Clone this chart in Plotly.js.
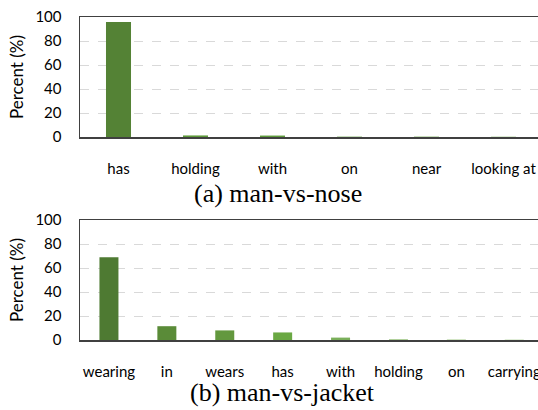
<!DOCTYPE html>
<html>
<head>
<meta charset="utf-8">
<script src="https://cdn.plot.ly/plotly-3.0.1.min.js"></script>
<style>html,body{margin:0;padding:0;background:#fff;}#chart{width:538px;height:410px;}</style>
</head>
<body>
<div id="chart"></div>
<script>
// Panel (a): man-vs-nose
const noseCategories = ["has", "holding", "with", "on", "near", "looking at"];
const noseValues = [95.8, 1.3, 1.2, 0.3, 0.3, 0.2];
const noseColors = ["#548235", "#5e9a3a", "#5f9c3c", "#639f40", "#67a443", "#6aa845"];

// Panel (b): man-vs-jacket
const jacketCategories = ["wearing", "in", "wears", "has", "with", "holding", "on", "carrying"];
const jacketValues = [69, 11.5, 8, 6.3, 2, 0.5, 0.3, 0.2];
const jacketColors = ["#4e7a32", "#5a8b38", "#63983e", "#6aa843", "#7aaf5a", "#7db35a", "#80b65d", "#82b860"];

const yTicks = [0, 20, 40, 60, 80, 100];
const captionA = "(a) man-vs-nose";
const captionB = "(b) man-vs-jacket";

const tickFont = {family: "Lato, 'Open Sans', sans-serif", size: 15, color: "#000"};

const traces = [
  {type: "bar", x: noseCategories, y: noseValues, xaxis: "x", yaxis: "y",
   width: 0.325, marker: {color: noseColors}, hoverinfo: "skip"},
  {type: "bar", x: jacketCategories, y: jacketValues, xaxis: "x2", yaxis: "y2",
   width: 0.328, marker: {color: jacketColors}, hoverinfo: "skip"}
];

function yAxis(domain, anchor) {
  return {
    domain: domain, anchor: anchor, range: [0, 100], tickvals: yTicks,
    showgrid: true, gridcolor: "#d9d9d9", griddash: "dash", gridwidth: 1,
    zeroline: false, showline: true, linecolor: "#404040", linewidth: 1.5,
    ticks: "outside", ticklen: 14, tickcolor: "rgba(0,0,0,0)",
    tickfont: tickFont, fixedrange: true,
    title: {text: "Percent (%)", font: {family: "Lato, 'Open Sans', sans-serif", size: 17, color: "#000"}, standoff: 7}
  };
}
function xAxis(range, anchor) {
  return {
    range: range, anchor: anchor, type: "category",
    showline: true, mirror: true, linecolor: "#404040", linewidth: 1.5,
    showgrid: false, zeroline: false,
    ticks: "outside", ticklen: 17, tickcolor: "rgba(0,0,0,0)",
    tickfont: tickFont, fixedrange: true, tickangle: 0
  };
}

const layout = {
  width: 538, height: 410,
  margin: {l: 80, r: 0, t: 0, b: 0},
  paper_bgcolor: "#fff", plot_bgcolor: "#fff",
  showlegend: false,
  xaxis: xAxis([-0.5, 5.448], "y"),
  yaxis: yAxis([1 - 137/410, 1 - 17/410], "x"),
  xaxis2: xAxis([-0.5, 7.41], "y2"),
  yaxis2: yAxis([1 - 340/410, 1 - 220/410], "x2"),
  annotations: [
    {text: captionA, xref: "paper", yref: "paper", x: (278 - 80) / 458, y: 1 - 193/410,
     xanchor: "center", yanchor: "middle", showarrow: false,
     font: {family: "'Liberation Serif', 'Times New Roman', serif", size: 26, color: "#000"}},
    {text: captionB, xref: "paper", yref: "paper", x: (282 - 80) / 458, y: 1 - 392/410,
     xanchor: "center", yanchor: "middle", showarrow: false,
     font: {family: "'Liberation Serif', 'Times New Roman', serif", size: 26, color: "#000"}}
  ]
};

Plotly.newPlot("chart", traces, layout, {displayModeBar: false, staticPlot: true});
</script>
</body>
</html>
